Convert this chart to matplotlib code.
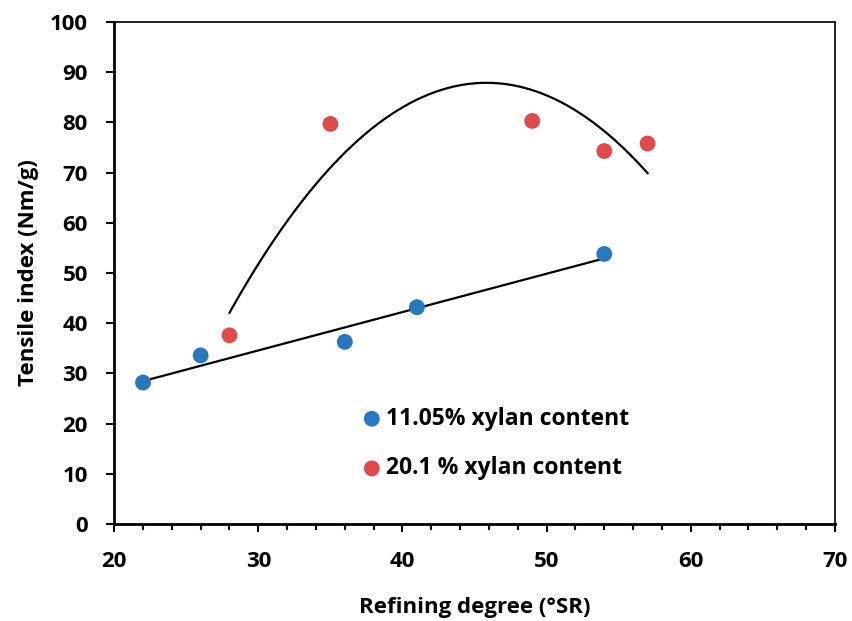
import numpy as np
import matplotlib
matplotlib.use("Agg")
import matplotlib.pyplot as plt
from matplotlib.ticker import MultipleLocator

plt.rcParams['font.family'] = ['Open Sans', 'DejaVu Sans']

# Data
x_low = [22, 26, 36, 41, 54]
y_low = [28.2, 33.6, 36.3, 43.2, 53.8]
x_high = [28, 35, 49, 54, 57]
y_high = [37.6, 79.7, 80.3, 74.3, 75.8]
label_low = "11.05% xylan content"
label_high = "20.1 % xylan content"

c_blue = '#2878BE'
c_red = '#DF4B4B'

fig = plt.figure(figsize=(8.52, 6.21), dpi=100)
ax = fig.add_axes([0.134, 0.156, 0.846, 0.8086])

# trendlines
p1 = np.polyfit(x_low, y_low, 1)
xs1 = np.linspace(min(x_low), max(x_low), 100)
ax.plot(xs1, np.polyval(p1, xs1), color='black', lw=1.6, zorder=2)
p2 = np.polyfit(x_high, y_high, 2)
xs2 = np.linspace(min(x_high), max(x_high), 200)
ax.plot(xs2, np.polyval(p2, xs2), color='black', lw=1.6, zorder=2)

ax.scatter(x_low, y_low, s=130, color=c_blue, label=label_low, zorder=3, edgecolors='none')
ax.scatter(x_high, y_high, s=130, color=c_red, label=label_high, zorder=3, edgecolors='none')

ax.set_xlim(20, 70)
ax.set_ylim(0, 100)
ax.xaxis.set_major_locator(MultipleLocator(10))
ax.xaxis.set_minor_locator(MultipleLocator(2))
ax.yaxis.set_major_locator(MultipleLocator(10))
ax.tick_params(axis='both', which='major', direction='out', length=6, width=1.5, labelsize=16)
ax.tick_params(axis='y', which='major', pad=13)
ax.tick_params(axis='x', which='major', pad=13)
ax.tick_params(axis='x', which='minor', direction='out', length=4, width=1.5)
for lab in ax.get_xticklabels() + ax.get_yticklabels():
    lab.set_fontweight('bold')

for side in ['left', 'bottom']:
    ax.spines[side].set_linewidth(2)
for side in ['top', 'right']:
    ax.spines[side].set_linewidth(1.2)

ax.set_xlabel('Refining degree (°SR)', fontsize=16, fontweight='bold', labelpad=18)
ax.set_ylabel('Tensile index (Nm/g)', fontsize=16, fontweight='bold', labelpad=8)

leg = ax.legend(loc='upper left', bbox_to_anchor=(0.332, 0.252), frameon=False,
                handlelength=0.8, handletextpad=0.2, labelspacing=1.12, borderaxespad=0,
                prop={'weight': 'bold', 'size': 16.5})

fig.savefig('out.png', dpi=100)
